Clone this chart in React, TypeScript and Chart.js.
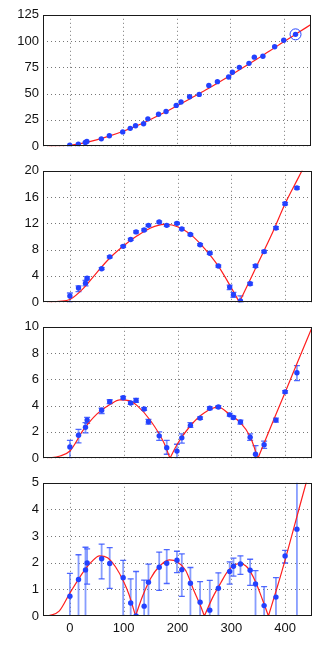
import React, { useEffect, useRef } from "react";
import { Chart, registerables } from "chart.js";

Chart.register(...registerables);

// ---------- data ----------
const X_TICKS = [0, 100, 200, 300, 400];
const Y_TICKS_1 = [0, 25, 50, 75, 100, 125];
const Y_TICKS_2 = [0, 4, 8, 12, 16, 20];
const Y_TICKS_3 = [0, 2, 4, 6, 8, 10];
const Y_TICKS_4 = [0, 1, 2, 3, 4, 5];

const X_POINTS = [0, 16, 29, 32, 59, 74, 99, 113, 123, 138, 146, 166, 180, 199, 208, 224, 242, 260, 276, 297, 304, 317, 335, 345, 361, 383, 400, 422];

const P1_VALUES = [1, 2, 3.5, 4.5, 7, 10, 13.6, 17, 19.5, 21.4, 26, 30.4, 33, 38.8, 42, 47, 49.3, 57.7, 61.4, 65.8, 70.4, 75, 78.8, 84.7, 85.6, 94.6, 100.8, 106.4];
const P1_HIGHLIGHT_X = [422];
const P1_HIGHLIGHT_Y = [106.4];

const P2_VALUES = [0.94, 2.15, 2.9, 3.65, 5.1, 6.9, 8.5, 9.55, 10.7, 11.0, 11.7, 12.2, 11.7, 12.0, 11.15, 10.3, 8.75, 7.45, 5.5, 2.3, 1.15, 0.2, 2.8, 5.5, 7.7, 11.3, 15.0, 17.4];
const P2_LOW = [-0.1, 1.6, 2.5, 3.4, 4.95, 6.75, 8.35, 9.4, 10.55, 10.85, 11.55, 12.05, 11.55, 11.85, 11.0, 10.15, 8.6, 7.3, 5.35, 1.9, 0.75, -0.1, 2.6, 5.3, 7.5, 11.1, 14.8, 17.2];
const P2_HIGH = [1.4, 2.5, 3.3, 3.9, 5.25, 7.05, 8.65, 9.7, 10.85, 11.15, 11.85, 12.35, 11.85, 12.15, 11.3, 10.45, 8.9, 7.6, 5.65, 2.6, 1.5, 0.95, 3.0, 5.7, 7.9, 11.5, 15.2, 17.6];

const P3_VALUES = [0.86, 1.75, 2.35, 2.9, 3.65, 4.3, 4.6, 4.2, 4.4, 3.75, 2.77, 1.7, 0.8, 0.54, 1.55, 2.5, 3.05, 3.8, 3.9, 3.3, 3.1, 2.75, 1.6, 0.3, 1.03, 2.9, 5.05, 6.5];
const P3_LOW = [-0.1, 1.16, 1.93, 2.65, 3.4, 4.15, 4.5, 4.1, 4.25, 3.65, 2.6, 1.36, 0.3, -0.1, 1.15, 2.35, 2.95, 3.7, 3.8, 3.2, 3.0, 2.6, 1.35, -0.1, 0.75, 2.75, 4.95, 5.9];
const P3_HIGH = [1.36, 2.2, 2.7, 3.1, 3.8, 4.45, 4.7, 4.3, 4.55, 3.85, 2.95, 2.0, 1.35, 1.06, 1.85, 2.7, 3.15, 3.9, 4.0, 3.4, 3.2, 2.9, 1.85, 0.95, 1.3, 3.05, 5.15, 7.05];

const P4_VALUES = [0.74, 1.37, 1.73, 1.99, 2.15, 1.97, 1.44, 0.49, 0, 0.37, 1.27, 1.83, 1.98, 2.09, 1.74, 1.23, 0.52, 0.22, 1.04, 1.67, 1.87, 1.95, 1.72, 1.2, 0.39, 0.71, 2.25, 3.26];
const P4_LOW = [-0.2, -0.2, -0.2, 1.2, 1.39, 1.04, -0.2, -0.2, -0.2, -0.2, -0.2, 0.96, 1.22, 1.63, 0.74, -0.2, -0.2, -0.2, -0.2, 1.2, 1.5, 1.56, 1.15, -0.2, -0.2, -0.2, 1.99, -0.2];
const P4_HIGH = [1.6, 2.3, 2.58, 2.52, 2.7, 2.57, 2.09, 1.39, 1.67, 1.35, 1.95, 2.4, 2.49, 2.43, 2.33, 1.82, 1.29, 1.34, 1.62, 2.03, 2.17, 2.26, 2.13, 1.7, 1.1, 1.44, 2.46, 6.3];

// fitted curves (null separates branches)
const C1_X = [-40, -20, 0, 25, 50, 75, 100, 125, 150, 175, 200, 225, 250, 275, 300, 325, 350, 375, 400, 425, 450];
const C1_Y = [0, 0.2, 0.9, 3, 6, 9.8, 14.2, 19.3, 25.2, 31.5, 38.3, 45.2, 52.2, 59.6, 67.2, 75, 83, 91, 99.4, 107.4, 115.5];

const C2_X = [-40, -20, 0, 25, 50, 75, 100, 125, 150, 175, 190, 210, 230, 250, 275, 300, 315, 315, 315, 325, 350, 375, 400, 425, 450];
const C2_Y = [0, 0.12, 0.4, 2.1, 4.5, 6.8, 8.6, 10.1, 11.3, 11.85, 11.75, 11.1, 9.9, 8.2, 5.6, 2.2, 0, null, 0, 1.7, 6.0, 10.3, 15.0, 19.0, 23.0];

const C3_X = [-40, -20, 0, 25, 50, 75, 93, 110, 125, 150, 175, 186, 186, 186, 200, 224, 250, 276, 297, 317, 335, 349.5, 349.5, 349.5, 375, 400, 425, 450];
const C3_Y = [0, 0.15, 0.55, 2.15, 3.35, 4.1, 4.44, 4.38, 4.0, 2.85, 1.15, 0, null, 0, 1.1, 2.47, 3.46, 3.88, 3.33, 2.7, 1.65, 0, null, 0, 2.55, 5.0, 7.5, 9.95];

const C4_X = [-40, -20, 0, 25, 40, 55, 70, 85, 100, 110, 122, 122, 122, 135, 150, 165, 185, 200, 215, 230, 242, 250, 250, 250, 265, 280, 295, 315, 330, 345, 358, 369, 369, 369, 385, 400, 425, 450];
const C4_Y = [0, 0.18, 0.86, 1.66, 2.03, 2.26, 2.19, 1.84, 1.29, 0.8, 0, null, 0, 0.74, 1.41, 1.84, 2.11, 2.03, 1.72, 0.98, 0.42, 0, null, 0, 0.68, 1.23, 1.72, 1.97, 1.82, 1.29, 0.61, 0, null, 0, 1.06, 2.1, 3.96, 5.8];

// ---------- styling ----------
const FONT = { family: "'Liberation Sans', Arial, Helvetica, sans-serif", size: 13 };
const POINT_COLOR = "rgb(35,65,255)";
const CURVE_COLOR = "rgb(255,30,30)";

const panelPlugin = {
  id: "panelDecor",
  beforeDatasetsDraw(chart: any) {
    const { ctx, chartArea, scales } = chart;
    const xs = scales.x;
    const ys = scales.y;
    ctx.save();
    ctx.beginPath();
    ctx.rect(chartArea.left, chartArea.top, chartArea.right - chartArea.left, chartArea.bottom - chartArea.top);
    ctx.clip();
    // dotted grid
    ctx.strokeStyle = "rgba(60,60,60,0.7)";
    ctx.lineWidth = 1;
    ctx.setLineDash([1, 3]);
    for (const t of xs.ticks) {
      const px = Math.round(xs.getPixelForValue(t.value)) + 0.5;
      ctx.beginPath();
      ctx.moveTo(px, chartArea.top);
      ctx.lineTo(px, chartArea.bottom);
      ctx.stroke();
    }
    for (const t of ys.ticks) {
      const py = Math.round(ys.getPixelForValue(t.value)) + 0.5;
      ctx.beginPath();
      ctx.moveTo(chartArea.left, py);
      ctx.lineTo(chartArea.right, py);
      ctx.stroke();
    }
    ctx.setLineDash([]);
    // error bars
    const eb = chart.options.plugins.errbars;
    if (eb && eb.low) {
      for (let i = 0; i < eb.x.length; i++) {
        const px = xs.getPixelForValue(eb.x[i]);
        const yLo = ys.getPixelForValue(eb.low[i]);
        const yHi = ys.getPixelForValue(eb.high[i]);
        ctx.strokeStyle = "rgba(70,105,255,0.65)";
        ctx.lineWidth = 1.8;
        ctx.beginPath();
        ctx.moveTo(px, yLo);
        ctx.lineTo(px, yHi);
        ctx.stroke();
        ctx.strokeStyle = "rgba(50,80,255,0.85)";
        ctx.lineWidth = 1.3;
        ctx.beginPath();
        ctx.moveTo(px - 3, yLo);
        ctx.lineTo(px + 3, yLo);
        ctx.moveTo(px - 3, yHi);
        ctx.lineTo(px + 3, yHi);
        ctx.stroke();
      }
    }
    ctx.restore();
  },
  afterDraw(chart: any) {
    const { ctx, chartArea } = chart;
    ctx.save();
    ctx.strokeStyle = "#1a1a1a";
    ctx.lineWidth = 1;
    ctx.setLineDash([]);
    const l = Math.round(chartArea.left) + 0.5;
    const t = Math.round(chartArea.top) + 0.5;
    const r = Math.round(chartArea.right) - 0.5;
    const b = Math.round(chartArea.bottom) - 0.5;
    ctx.strokeRect(l, t, r - l, b - t);
    ctx.restore();
  },
};

type PanelProps = {
  top: number;
  height: number;
  showX: boolean;
  yTicks: number[];
  values: number[];
  low?: number[];
  high?: number[];
  curveX: number[];
  curveY: (number | null)[];
  hlX?: number[];
  hlY?: number[];
};

function Panel(props: PanelProps) {
  const ref = useRef<HTMLCanvasElement>(null);
  useEffect(() => {
    const { showX, yTicks, values, low, high, curveX, curveY, hlX, hlY } = props;
    const datasets: any[] = [
      {
        type: "scatter",
        data: X_POINTS.map((x, i) => ({ x, y: values[i] })),
        pointRadius: 2.7,
        pointBackgroundColor: POINT_COLOR,
        pointBorderWidth: 0,
        showLine: false,
      },
      {
        type: "line",
        data: curveX.map((x, i) => ({ x, y: curveY[i] })),
        borderColor: CURVE_COLOR,
        borderWidth: 1.2,
        pointRadius: 0,
        cubicInterpolationMode: "monotone",
        spanGaps: false,
        fill: false,
      },
    ];
    if (hlX && hlY) {
      datasets.unshift({
        type: "scatter",
        data: hlX.map((x, i) => ({ x, y: hlY[i] })),
        pointRadius: 5.5,
        pointBackgroundColor: "rgba(0,0,0,0)",
        pointBorderColor: POINT_COLOR,
        pointBorderWidth: 1,
        showLine: false,
      });
    }
    const chart = new Chart(ref.current as HTMLCanvasElement, {
      type: "scatter",
      data: { datasets },
      options: {
        animation: false,
        responsive: false,
        devicePixelRatio: 1,
        layout: { padding: { top: 10, bottom: showX ? 0 : 10, left: 0, right: 5 } },
        plugins: {
          legend: { display: false },
          tooltip: { enabled: false },
          errbars: { x: X_POINTS, low, high },
        } as any,
        scales: {
          x: {
            type: "linear",
            min: -50,
            max: 450,
            afterBuildTicks: (s: any) => {
              s.ticks = X_TICKS.map((v) => ({ value: v }));
            },
            afterFit: (s: any) => {
              s.height = showX ? 41 : 0;
            },
            ticks: { display: showX, font: FONT, color: "#111", padding: 5, maxRotation: 0, autoSkip: false },
            grid: { display: false, drawTicks: false },
            border: { display: false },
          },
          y: {
            type: "linear",
            min: yTicks[0],
            max: yTicks[yTicks.length - 1],
            afterBuildTicks: (s: any) => {
              s.ticks = yTicks.map((v) => ({ value: v }));
            },
            afterFit: (s: any) => {
              s.width = 43;
            },
            ticks: { font: FONT, color: "#111", padding: 4, autoSkip: false },
            grid: { display: false, drawTicks: false },
            border: { display: false },
          },
        },
      } as any,
      plugins: [panelPlugin],
    });
    return () => chart.destroy();
  }, []);
  return (
    <div style={{ position: "absolute", left: 0, top: props.top, width: 317, height: props.height }}>
      <canvas ref={ref} width={317} height={props.height} style={{ display: "block" }} />
    </div>
  );
}

export default function App() {
  return (
    <div style={{ position: "absolute", left: 0, top: 0, width: 317, height: 657, background: "#fff" }}>
      <Panel top={3} height={155} showX={false} yTicks={Y_TICKS_1} values={P1_VALUES} curveX={C1_X} curveY={C1_Y} hlX={P1_HIGHLIGHT_X} hlY={P1_HIGHLIGHT_Y} />
      <Panel top={159} height={155} showX={false} yTicks={Y_TICKS_2} values={P2_VALUES} low={P2_LOW} high={P2_HIGH} curveX={C2_X} curveY={C2_Y} />
      <Panel top={315} height={155} showX={false} yTicks={Y_TICKS_3} values={P3_VALUES} low={P3_LOW} high={P3_HIGH} curveX={C3_X} curveY={C3_Y} />
      <Panel top={471} height={186} showX={true} yTicks={Y_TICKS_4} values={P4_VALUES} low={P4_LOW} high={P4_HIGH} curveX={C4_X} curveY={C4_Y} />
    </div>
  );
}
